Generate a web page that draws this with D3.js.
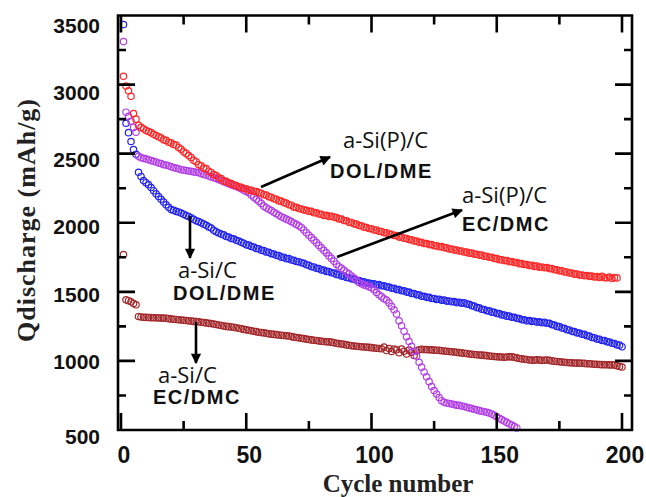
<!DOCTYPE html>
<html>
<head>
<meta charset="utf-8">
<script src="https://cdn.jsdelivr.net/npm/d3@7"></script>
<style>
  body { margin: 0; background: #fff; }
  svg { display: block; }
</style>
</head>
<body>
<svg id="chart" width="646" height="497"></svg>
<script>
// discharge capacity (mAh/g) per cycle, starting at cycle 1
const redSiPDolDme = [
  3060, 2990, 2955, 2915, 2790, 2750, 2705, 2690, 2680, 2668,
  2660, 2652, 2640, 2632, 2622, 2614, 2600, 2596, 2583, 2578,
  2566, 2562, 2545, 2532, 2513, 2502, 2486, 2472, 2452, 2442,
  2420, 2412, 2396, 2392, 2373, 2364, 2348, 2342, 2326, 2320,
  2303, 2300, 2290, 2284, 2274, 2270, 2260, 2257, 2248, 2246,
  2236, 2234, 2228, 2226, 2218, 2214, 2203, 2200, 2188, 2184,
  2174, 2170, 2158, 2157, 2146, 2142, 2130, 2127, 2113, 2112,
  2103, 2100, 2093, 2090, 2083, 2082, 2072, 2072, 2063, 2062,
  2053, 2054, 2046, 2047, 2041, 2038, 2028, 2027, 2016, 2014,
  2003, 2002, 1992, 1990, 1980, 1978, 1968, 1966, 1958, 1957,
  1948, 1948, 1938, 1937, 1928, 1928, 1918, 1917, 1908, 1907,
  1896, 1896, 1888, 1886, 1878, 1877, 1868, 1868, 1858, 1858,
  1850, 1850, 1842, 1842, 1834, 1834, 1826, 1827, 1820, 1818,
  1810, 1810, 1803, 1802, 1795, 1796, 1788, 1788, 1780, 1780,
  1773, 1772, 1766, 1766, 1758, 1758, 1750, 1750, 1742, 1740,
  1733, 1732, 1726, 1727, 1718, 1719, 1712, 1712, 1704, 1704,
  1698, 1698, 1690, 1692, 1684, 1686, 1678, 1680, 1674, 1676,
  1668, 1668, 1660, 1660, 1652, 1652, 1644, 1644, 1636, 1636,
  1628, 1629, 1621, 1622, 1616, 1618, 1612, 1614, 1608, 1610,
  1604, 1612, 1602, 1602, 1607, 1596, 1604, 1601
];

const blueSiDolDme = [
  3435, 2720, 2652, 2588, 2530, 2495, 2365, 2335, 2305, 2290,
  2275, 2255, 2232, 2210, 2190, 2170, 2150, 2130, 2112, 2095,
  2090, 2082, 2078, 2070, 2062, 2052, 2045, 2036, 2025, 2015,
  2008, 2000, 1990, 1982, 1970, 1962, 1945, 1935, 1925, 1918,
  1912, 1900, 1897, 1886, 1884, 1873, 1868, 1858, 1852, 1840,
  1838, 1828, 1824, 1814, 1812, 1801, 1798, 1788, 1786, 1776,
  1774, 1764, 1762, 1751, 1750, 1740, 1740, 1730, 1728, 1720,
  1718, 1710, 1707, 1696, 1692, 1682, 1680, 1670, 1668, 1658,
  1657, 1648, 1647, 1638, 1636, 1626, 1624, 1614, 1614, 1604,
  1602, 1594, 1592, 1584, 1582, 1574, 1572, 1563, 1564, 1556,
  1558, 1551, 1552, 1544, 1544, 1536, 1535, 1526, 1526, 1516,
  1516, 1508, 1507, 1498, 1498, 1488, 1488, 1478, 1478, 1468,
  1468, 1460, 1460, 1452, 1452, 1445, 1446, 1439, 1440, 1433,
  1434, 1428, 1429, 1422, 1424, 1418, 1420, 1412, 1410, 1400,
  1397, 1386, 1384, 1374, 1372, 1363, 1362, 1353, 1352, 1343,
  1342, 1333, 1332, 1324, 1324, 1316, 1316, 1308, 1307, 1298,
  1298, 1290, 1292, 1286, 1287, 1281, 1283, 1277, 1279, 1273,
  1272, 1263, 1260, 1250, 1248, 1238, 1236, 1226, 1224, 1214,
  1212, 1203, 1202, 1193, 1192, 1182, 1180, 1170, 1168, 1158,
  1157, 1148, 1147, 1138, 1137, 1128, 1126, 1116, 1114, 1103
];

const purpleSiPEcDmc = [
  3311, 2800, 2770, 2735, 2690, 2655, 2482, 2470, 2466, 2462,
  2456, 2450, 2445, 2440, 2432, 2428, 2420, 2418, 2412, 2405,
  2400, 2395, 2390, 2384, 2382, 2378, 2375, 2372, 2368, 2365,
  2362, 2356, 2350, 2345, 2338, 2332, 2326, 2320, 2312, 2305,
  2298, 2290, 2282, 2275, 2268, 2262, 2255, 2246, 2236, 2226,
  2217, 2200, 2185, 2170, 2155, 2140, 2120, 2108, 2098, 2088,
  2076, 2065, 2054, 2043, 2035, 2026, 2018, 2008, 1998, 1988,
  1978, 1966, 1948, 1928, 1910, 1892, 1874, 1856, 1836, 1818,
  1800, 1782, 1760, 1742, 1722, 1700, 1682, 1670, 1656, 1642,
  1630, 1615, 1600, 1585, 1568, 1558, 1550, 1544, 1536, 1530,
  1515, 1495, 1478, 1465, 1450, 1440, 1420, 1395, 1370, 1340,
  1290, 1255, 1215, 1175, 1140, 1105, 1070, 1035, 990, 955,
  920, 885, 850, 815, 785, 760, 735, 712, 700, 695,
  692, 688, 684, 680, 678, 674, 670, 665, 660, 655,
  650, 646, 640, 636, 632, 628, 623, 615, 606, 596,
  585, 575, 565, 555, 545, 535, 525, 515
];

const brownSiEcDmc = [
  1770, 1442, 1436, 1428, 1416, 1406, 1322, 1318, 1316, 1315,
  1314, 1313, 1312, 1312, 1311, 1310, 1310, 1309, 1306, 1304,
  1302, 1300, 1298, 1296, 1294, 1292, 1290, 1288, 1286, 1285,
  1283, 1280, 1278, 1275, 1272, 1270, 1267, 1264, 1260, 1256,
  1253, 1250, 1248, 1246, 1244, 1240, 1236, 1232, 1228, 1225,
  1222, 1218, 1215, 1212, 1208, 1205, 1203, 1200, 1196, 1194,
  1192, 1190, 1188, 1186, 1184, 1182, 1180, 1176, 1172, 1169,
  1167, 1164, 1161, 1158, 1155, 1152, 1150, 1148, 1145, 1142,
  1140, 1138, 1138, 1136, 1132, 1128, 1125, 1122, 1120, 1116,
  1113, 1110, 1108, 1106, 1104, 1102, 1101, 1100, 1098, 1096,
  1094, 1092, 1090, 1088, 1100, 1075, 1090, 1068, 1085, 1080,
  1060, 1085, 1070, 1050, 1078, 1062, 1040, 1072, 1080, 1084,
  1082, 1082, 1080, 1080, 1078, 1077, 1076, 1074, 1072, 1070,
  1068, 1066, 1064, 1062, 1060, 1058, 1056, 1054, 1050, 1048,
  1046, 1045, 1043, 1042, 1040, 1038, 1036, 1034, 1032, 1030,
  1029, 1028, 1027, 1028, 1030, 1029, 1026, 1022, 1018, 1015,
  1012, 1010, 1007, 1006, 1005, 1008, 1006, 1004, 1005, 1007,
  1004, 1000, 998, 996, 994, 992, 990, 988, 987, 986,
  985, 984, 985, 983, 982, 980, 979, 978, 976, 975,
  974, 973, 972, 972, 971, 971, 970, 965, 960, 956
];

const xTickLabels = [0, 50, 100, 150, 200];
const yTickLabels = [500, 1000, 1500, 2000, 2500, 3000, 3500];

const series = [
  { values: brownSiEcDmc, color: '#a3282b' },
  { values: blueSiDolDme, color: '#2323ee' },
  { values: purpleSiPEcDmc, color: '#b23fe6' },
  { values: redSiPDolDme, color: '#ff2626' }
];

const svg = d3.select('#chart');
const frameLeft = 118, frameRight = 632, frameTop = 15.5, frameBottom = 430;

const x = d3.scaleLinear().domain([0, 200]).range([121, 622]);
const y = d3.scaleLinear().domain([500, 3500]).range([frameBottom, frameTop]);

// markers
const plot = svg.append('g');
series.forEach(s => {
  plot.append('g')
    .selectAll('circle')
    .data(s.values)
    .enter()
    .append('circle')
    .attr('cx', (d, i) => x(i + 1))
    .attr('cy', d => y(d))
    .attr('r', 3.2)
    .attr('fill', 'none')
    .attr('stroke', s.color)
    .attr('stroke-width', 1.2);
});

// tick labels
svg.append('g')
  .selectAll('text')
  .data(yTickLabels)
  .enter()
  .append('text')
  .attr('x', 100)
  .attr('y', d => y(d) + (d === 500 ? 14 : 8 + (d - 1000) / 500 * 1.8))
  .attr('text-anchor', 'end')
  .attr('font-family', 'Liberation Sans, Arial, sans-serif')
  .attr('font-weight', 'bold')
  .attr('font-size', 21)
  .attr('fill', '#111')
  .text(d => d);

svg.append('g')
  .selectAll('text')
  .data(xTickLabels)
  .enter()
  .append('text')
  .attr('x', d => x(d) + 3)
  .attr('y', 463)
  .attr('text-anchor', 'middle')
  .attr('font-family', 'Liberation Sans, Arial, sans-serif')
  .attr('font-weight', 'bold')
  .attr('font-size', 23)
  .attr('fill', '#111')
  .text(d => d);

// axis titles
svg.append('text')
  .attr('transform', 'translate(35,220) rotate(-90)')
  .attr('text-anchor', 'middle')
  .attr('font-family', 'Liberation Serif, Times New Roman, serif')
  .attr('font-weight', 'bold')
  .attr('font-size', 26)
  .attr('letter-spacing', 1)
  .attr('fill', '#222')
  .text('Qdischarge (mAh/g)');

svg.append('text')
  .attr('x', 398)
  .attr('y', 492)
  .attr('text-anchor', 'middle')
  .attr('font-family', 'Liberation Serif, Times New Roman, serif')
  .attr('font-weight', 'bold')
  .attr('font-size', 25)
  .attr('fill', '#222')
  .text('Cycle number');

// annotations
const notes = [
  { name: 'a-Si(P)/C', sub: 'DOL/DME', x: 343, y: 148, sx: 330, sy: 178 },
  { name: 'a-Si(P)/C', sub: 'EC/DMC', x: 462, y: 203, sx: 462, sy: 231 },
  { name: 'a-Si/C', sub: 'DOL/DME', x: 178, y: 278, sx: 173, sy: 300 },
  { name: 'a-Si/C', sub: 'EC/DMC', x: 158, y: 383, sx: 153, sy: 404 }
];
const arrows = [
  [261, 187, 330, 157],
  [337, 257, 462, 210],
  [190, 216, 190, 258],
  [196, 322, 196, 363]
];

svg.append('defs').append('marker')
  .attr('id', 'head')
  .attr('viewBox', '0 0 10 10')
  .attr('refX', 9).attr('refY', 5)
  .attr('markerWidth', 5).attr('markerHeight', 4)
  .attr('markerUnits', 'strokeWidth')
  .attr('orient', 'auto')
  .append('path')
  .attr('d', 'M0,0L10,5L0,10Z')
  .attr('fill', '#000');

svg.append('g')
  .selectAll('line')
  .data(arrows)
  .enter()
  .append('line')
  .attr('x1', d => d[0]).attr('y1', d => d[1])
  .attr('x2', d => d[2]).attr('y2', d => d[3])
  .attr('stroke', '#000')
  .attr('stroke-width', 2.6)
  .attr('marker-end', 'url(#head)');

const noteG = svg.append('g');
notes.forEach(n => {
  noteG.append('text')
    .attr('x', n.x).attr('y', n.y)
    .attr('font-family', 'Open Sans, sans-serif')
    .attr('font-size', 22)
    .attr('fill', '#111')
    .text(n.name);
  noteG.append('text')
    .attr('x', n.sx).attr('y', n.sy)
    .attr('font-family', 'Liberation Sans, Arial, sans-serif')
    .attr('font-weight', 'bold')
    .attr('font-size', 20)
    .attr('letter-spacing', 1.5)
    .attr('fill', '#111')
    .text(n.sub);
});

// frame and inward ticks as one path (major every 50 cycles / 500 mAh/g)
const frame = d3.path();
d3.range(0, 201, 25).forEach(v => {
  const len = v % 50 === 0 ? 17 : 9;
  frame.moveTo(x(v), frameBottom); frame.lineTo(x(v), frameBottom - len);
  frame.moveTo(x(v), frameTop); frame.lineTo(x(v), frameTop + len);
});
d3.range(500, 3501, 250).forEach(v => {
  const len = v % 500 === 0 ? 17 : 8;
  frame.moveTo(frameLeft, y(v)); frame.lineTo(frameLeft + len, y(v));
  frame.moveTo(frameRight, y(v)); frame.lineTo(frameRight - len, y(v));
});
frame.rect(frameLeft, frameTop, frameRight - frameLeft, frameBottom - frameTop);

svg.append('path')
  .attr('d', frame.toString())
  .attr('fill', 'none')
  .attr('stroke', '#000')
  .attr('stroke-width', 2.6);
</script>
</body>
</html>
